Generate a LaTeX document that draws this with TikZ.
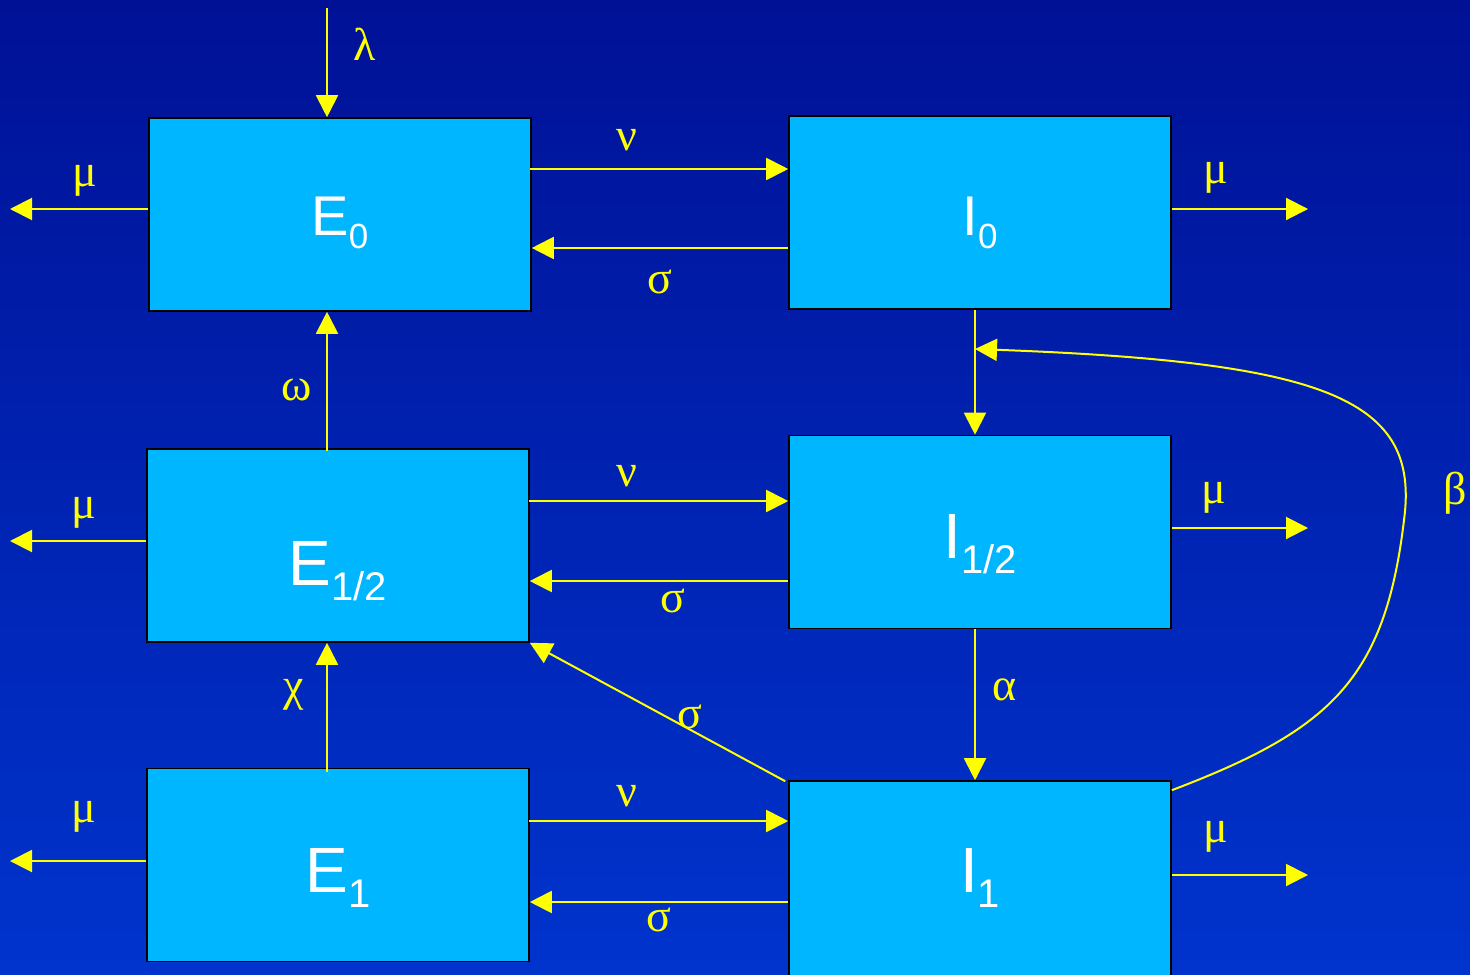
\documentclass[tikz,border=0pt]{standalone}
\usepackage{fontspec}
\setmainfont{Liberation Sans}
\newfontfamily\grk{Liberation Serif}
\usetikzlibrary{arrows.meta,calc}
\definecolor{bgtop}{RGB}{0,17,150}
\definecolor{bgbot}{RGB}{0,52,205}
\definecolor{boxfill}{RGB}{0,182,255}
\definecolor{flow}{RGB}{255,255,0}
\newcommand{\lowsub}[1]{\raisebox{-0.24em}{\scalebox{0.625}{#1}}}

\begin{document}
\begin{tikzpicture}[x=0.5pt,y=-0.5pt,
  blk/.style={draw=black,line width=0.8pt,fill=boxfill,minimum width=191pt,minimum height=96.5pt,inner sep=0pt,text=white,text depth=0pt,font=\fontsize{32}{36}\selectfont},
  blks/.style={blk,font=\fontsize{28}{32}\selectfont},
  arr/.style={draw=flow,line width=1pt,-{Triangle[length=11pt,width=11pt]}},
  lbl/.style={text=flow,inner sep=0pt,font=\grk\fontsize{23}{25}\selectfont}]
\path[use as bounding box,top color=bgtop,bottom color=bgbot] (0,0) rectangle (1470,974);
\clip (0,0) rectangle (1470,974);
% compartments
\node[blks,text height=20.5pt] (e0) at (340,214.5) {E\lowsub{0}};
\node[blks,text height=22.5pt] (i0) at (980,212.5) {I\lowsub{0}};
\node[blk,text height=39.5pt] (ehalf) at (338,545.5) {E\lowsub{1/2}};
\node[blk,text height=26pt] (ihalf) at (980,532) {I\lowsub{1/2}};
\node[blk,text height=27pt] (e1) at (338,865) {E\lowsub{1}};
\node[blk,minimum height=104.5pt,text height=6.5pt] (i1) at (980,885.5) {I\lowsub{1}};
% free ends
\coordinate (lam) at (327,8);
\coordinate (bjoin) at (975,349);
\coordinate (mue0) at (10,209);
\coordinate (muehalf) at (10,541);
\coordinate (mue1) at (10,861);
\coordinate (mui0) at (1308,209);
\coordinate (muihalf) at (1308,528);
\coordinate (mui1) at (1308,875);
% inflow and deaths
\draw[arr] (lam) -- (e0.north -| lam) node[lbl,pos=.33,xshift=19pt]{λ};
\draw[arr] (e0.west |- mue0) -- (mue0) node[lbl,pos=.46,yshift=14pt]{μ};
\draw[arr] (ehalf.west |- muehalf) -- (muehalf) node[lbl,pos=.46,yshift=14pt]{μ};
\draw[arr] (e1.west |- mue1) -- (mue1) node[lbl,pos=.46,yshift=22pt]{μ};
\draw[arr] (i0.east |- mui0) -- (mui0) node[lbl,pos=.32,yshift=15.5pt]{μ};
\draw[arr] (ihalf.east |- muihalf) -- (muihalf) node[lbl,pos=.31,yshift=15pt]{μ};
\draw[arr] (i1.east |- mui1) -- (mui1) node[lbl,pos=.32,yshift=19pt]{μ};
% infection and recovery
\draw[arr] ([shift={(-2,-45.5)}]e0.east) -- ([shift={(0,-45.5)}]e0.east -| i0.west) node[lbl,pos=.377,yshift=14.5pt]{ν};
\draw[arr] ([shift={(0,35.5)}]i0.west) -- ([shift={(0,35.5)}]i0.west -| e0.east) node[lbl,pos=.5,yshift=-17pt]{σ};
\draw[arr] ([shift={(-1,-44.5)}]ehalf.east) -- ([shift={(0,-44.5)}]ehalf.east -| ihalf.west) node[lbl,pos=.377,yshift=12.5pt]{ν};
\draw[arr] ([shift={(0,49)}]ihalf.west) -- ([shift={(0,49)}]ihalf.west -| ehalf.east) node[lbl,pos=.446,yshift=-10pt]{σ};
\draw[arr] ([shift={(-1,-44)}]e1.east) -- ([shift={(0,-44)}]e1.east -| i1.west) node[lbl,pos=.377,yshift=12.5pt]{ν};
\draw[arr] ([shift={(0,16.5)}]i1.west) -- ([shift={(0,16.5)}]i1.west -| e1.east) node[lbl,pos=.5,yshift=-9pt]{σ};
\draw[arr] ([shift={(-3,1)}]i1.north west) -- (ehalf.south east) node[lbl,pos=.373,yshift=6.5pt]{σ};
% vaccination and waning
\draw[arr] ([shift={(0,3)}]ehalf.north -| lam) -- (e0.south -| lam) node[lbl,pos=.44,xshift=-15pt]{ω};
\draw[arr] ([shift={(0,4)}]e1.north -| lam) -- (ehalf.south -| lam) node[lbl,pos=.6,xshift=-16.5pt]{χ};
\draw[arr] (i0.south -| bjoin) -- (ihalf.north -| bjoin);
\draw[arr] (ihalf.south -| bjoin) -- (i1.north -| bjoin) node[lbl,pos=.4,xshift=15pt]{α};
\draw[arr] ([shift={(0,10)}]i1.north east) .. controls (1330,730) and (1385,680) .. (1404,520)
  node[lbl,xshift=25.5pt,yshift=13.5pt]{β}
  .. controls (1420,400) and (1330,362) .. (bjoin);
\end{tikzpicture}
\end{document}
